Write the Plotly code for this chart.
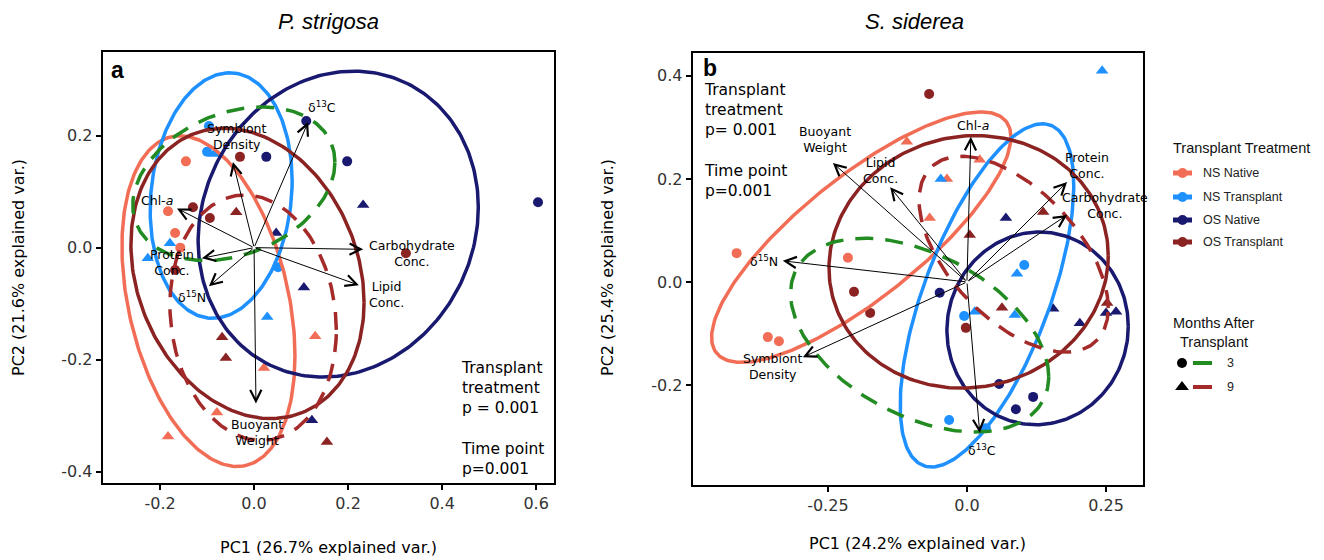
import numpy as np
import plotly.graph_objects as go

W, H = 1324, 560

# ---------------- categories / styles ----------------
GROUP_CODES = ["NN", "NT", "ON", "OT"]
GROUP_NAMES = ["NS Native", "NS Transplant", "OS Native", "OS Transplant"]
GROUP_COLORS = ["#F26D55", "#1E90FF", "#191970", "#8B2323"]
MONTHS = [3, 9]
MONTH_COLORS = ["#228B22", "#A52A2A"]
MONTH_SYMBOLS = ["circle", "triangle-up"]

# ---------------- Panel a: P. strigosa (scores) ----------------
a_group = ["NN", "NN", "NN", "NN", "NN", "NN", "NN", "NN",
           "NT", "NT", "NT", "NT", "NT", "NT", "NT",
           "ON", "ON", "ON", "ON", "ON", "ON", "ON", "ON",
           "OT", "OT", "OT", "OT", "OT", "OT", "OT", "OT", "OT"]
a_month = [3, 3, 3, 3, 9, 9, 9, 9,
           3, 3, 3, 9, 9, 9, 9,
           3, 3, 3, 3, 9, 9, 9, 9,
           3, 3, 3, 3, 3, 9, 9, 9, 9]
a_pc1 = [-0.145, -0.183, -0.168, -0.157, 0.130, 0.021, -0.079, -0.183,
         -0.100, -0.096, 0.051, -0.085, -0.179, -0.226, 0.028,
         0.026, 0.111, 0.198, 0.604, 0.047, 0.232, 0.106, 0.123,
         -0.030, -0.130, -0.094, -0.168, 0.323, -0.038, -0.068, -0.060, 0.155]
a_pc2 = [0.154, 0.065, 0.026, 0.000, -0.158, -0.215, -0.294, -0.337,
         0.171, 0.217, -0.035, 0.167, 0.008, -0.019, -0.124,
         0.162, 0.226, 0.154, 0.081, 0.026, 0.076, -0.071, -0.308,
         0.162, 0.072, 0.053, -0.040, -0.010, 0.063, -0.160, -0.197, -0.347]

# loadings (arrow tips)
a_vars = ["δ<sup>13</sup>C", "Symbiont<br>Density", "Chl-<i>a</i>", "Protein<br>Conc.",
          "δ<sup>15</sup>N", "Carbohydrate<br>Conc.", "Lipid<br>Conc.", "Buoyant<br>Weight"]
a_var_pc1 = [0.115, -0.045, -0.164, -0.111, -0.096, 0.232, 0.223, 0.004]
a_var_pc2 = [0.224, 0.153, 0.070, -0.019, -0.069, -0.003, -0.067, -0.278]

# ellipses: centre, half ranges, correlation
a_ell_keys = ["NN", "NT", "ON", "OT", 3, 9]
a_ell_cx = [-0.097, -0.070, 0.179, -0.014, -0.043, -0.002]
a_ell_cy = [-0.0955, 0.093, 0.042, -0.046, 0.114, -0.125]
a_ell_rx = [0.184, 0.151, 0.298, 0.248, 0.215, 0.177]
a_ell_ry = [0.295, 0.219, 0.273, 0.259, 0.137, 0.219]
a_ell_r = [-0.33, 0.12, 0.11, -0.2, 0.28, -0.1]

# ---------------- Panel b: S. siderea (scores) ----------------
b_group = ["NN", "NN", "NN", "NN", "NN", "NN", "NN", "NN",
           "NT", "NT", "NT", "NT", "NT", "NT", "NT", "NT", "NT",
           "ON", "ON", "ON", "ON", "ON", "ON", "ON", "ON", "ON",
           "OT", "OT", "OT", "OT", "OT", "OT", "OT", "OT"]
b_month = [3, 3, 3, 3, 9, 9, 9, 9,
           3, 3, 3, 3, 9, 9, 9, 9, 9,
           3, 3, 3, 3, 9, 9, 9, 9, 9,
           3, 3, 3, 3, 9, 9, 9, 9]
b_pc1 = [-0.414, -0.214, -0.358, -0.338, -0.108, 0.023, -0.036, -0.067,
         0.103, -0.005, -0.032, 0.034, 0.243, -0.047, 0.090, 0.014, 0.086,
         -0.049, 0.058, 0.119, 0.088, 0.070, 0.155, 0.203, 0.250, 0.268,
         -0.068, -0.002, -0.203, -0.174, 0.137, 0.005, 0.063, 0.252]
b_pc2 = [0.056, 0.047, -0.107, -0.115, 0.272, 0.237, 0.200, 0.124,
         0.033, -0.066, -0.268, -0.284, 0.410, 0.200, 0.016, -0.058, -0.064,
         -0.021, -0.198, -0.223, -0.247, 0.124, -0.052, -0.080, -0.060, -0.058,
         0.365, -0.089, -0.019, -0.060, 0.136, 0.091, -0.050, -0.041]

b_vars = ["Chl-<i>a</i>", "Buoyant<br>Weight", "Lipid<br>Conc.", "δ<sup>15</sup>N",
          "Symbiont<br>Density", "Protein<br>Conc.", "Carbohydrate<br>Conc.", "δ<sup>13</sup>C"]
b_var_pc1 = [0.007, -0.241, -0.138, -0.331, -0.295, 0.180, 0.180, 0.023]
b_var_pc2 = [0.282, 0.231, 0.184, 0.041, -0.146, 0.194, 0.130, -0.293]

b_ell_keys = ["NN", "NT", "ON", "OT", 3, 9]
b_ell_cx = [-0.190, 0.036, 0.127, 0.003, -0.085, 0.084]
b_ell_cy = [0.087, -0.026, -0.090, 0.039, -0.103, 0.054]
b_ell_rx = [0.269, 0.156, 0.163, 0.251, 0.232, 0.170]
b_ell_ry = [0.243, 0.333, 0.187, 0.245, 0.188, 0.190]
b_ell_r = [0.80, 0.64, 0.02, 0.05, -0.43, -0.55]

# ---------------- layout helpers (pixel placement) ----------------
def px(x):
    return x / W

def py(y):
    return 1 - y / H

# label offsets (pixels) relative to arrow tips
a_lab_dx = [14, 4, -20, -30, -17, 49, 28, 1]
a_lab_dy = [15, 25, 8, -4, -11, -4, -9, -29]
b_lab_dx = [2, -8, -10, -19, -30, 20, 38, 2]
b_lab_dy = [11, 23, 17, 0, -9, 17, 10, -17]

FONT = "DejaVu Sans"
ARIAL = "Liberation Sans"


def ellipse_xy(cx, cy, rx, ry, r, n=240):
    t = np.linspace(0, 2 * np.pi, n)
    x = cx + rx * np.cos(t)
    y = cy + ry * (r * np.cos(t) + np.sqrt(1 - r * r) * np.sin(t))
    return x, y


fig = go.Figure()
annotations = []


def add_panel(xa, ya, group, month, pc1, pc2, vars_, vpc1, vpc2, lab_dx, lab_dy,
              ekeys, ecx, ecy, erx, ery, er):
    g = np.array(group)
    m = np.array(month)
    x1 = np.array(pc1)
    y1 = np.array(pc2)
    for gi, code in enumerate(GROUP_CODES):
        for mi, mo in enumerate(MONTHS):
            sel = (g == code) & (m == mo)
            if not sel.any():
                continue
            fig.add_trace(go.Scatter(
                x=x1[sel], y=y1[sel], mode="markers", xaxis=xa, yaxis=ya,
                marker=dict(symbol=MONTH_SYMBOLS[mi], size=10 if mo == 3 else 11,
                            color=GROUP_COLORS[gi], line=dict(width=0)),
                showlegend=False, hoverinfo="skip"))
    # ellipses
    for k, cx, cy, rx, ry, r in zip(ekeys, ecx, ecy, erx, ery, er):
        ex, ey = ellipse_xy(cx, cy, rx, ry, r)
        if k in GROUP_CODES:
            col = GROUP_COLORS[GROUP_CODES.index(k)]
            dash = "solid"
        else:
            col = MONTH_COLORS[MONTHS.index(k)]
            dash = "18px,12px"
        fig.add_trace(go.Scatter(
            x=ex, y=ey, mode="lines", xaxis=xa, yaxis=ya,
            line=dict(color=col, width=3.5, dash=dash),
            showlegend=False, hoverinfo="skip"))
    # arrows + labels
    for name, vx, vy, dx, dy in zip(vars_, vpc1, vpc2, lab_dx, lab_dy):
        annotations.append(dict(
            x=vx, y=vy, ax=0, ay=0, xref=xa, yref=ya, axref=xa, ayref=ya,
            text="", showarrow=True, arrowhead=5, arrowsize=2.2, arrowwidth=1,
            arrowcolor="black", standoff=0, startstandoff=0))
        annotations.append(dict(
            x=vx, y=vy, xref=xa, yref=ya, xshift=dx, yshift=dy, text=name,
            showarrow=False, font=dict(family=FONT, size=12.5, color="black"),
            align="center", xanchor="center", yanchor="middle"))


add_panel("x", "y", a_group, a_month, a_pc1, a_pc2, a_vars, a_var_pc1, a_var_pc2,
          a_lab_dx, a_lab_dy, a_ell_keys, a_ell_cx, a_ell_cy, a_ell_rx, a_ell_ry, a_ell_r)
add_panel("x2", "y2", b_group, b_month, b_pc1, b_pc2, b_vars, b_var_pc1, b_var_pc2,
          b_lab_dx, b_lab_dy, b_ell_keys, b_ell_cx, b_ell_cy, b_ell_rx, b_ell_ry, b_ell_r)

# ---------------- custom legend (right side) ----------------
LEG_X0 = 1150
leg_group_y = [173, 197, 220, 242]
for gi, name in enumerate(GROUP_NAMES):
    fig.add_trace(go.Scatter(
        x=[1173, 1192], y=[leg_group_y[gi]] * 2, mode="lines", xaxis="x3", yaxis="y3",
        line=dict(color=GROUP_COLORS[gi], width=5), showlegend=False, hoverinfo="skip"))
    fig.add_trace(go.Scatter(
        x=[1182.5], y=[leg_group_y[gi]], mode="markers", xaxis="x3", yaxis="y3",
        marker=dict(color=GROUP_COLORS[gi], size=10), showlegend=False, hoverinfo="skip"))
    annotations.append(dict(x=1201, y=leg_group_y[gi], xref="x3", yref="y3", text=name,
                            showarrow=False, xanchor="left", yanchor="middle",
                            font=dict(family=ARIAL, size=12.5, color="#222")))
leg_month_y = [363, 387]
for mi, mo in enumerate(MONTHS):
    fig.add_trace(go.Scatter(
        x=[1182], y=[leg_month_y[mi]], mode="markers", xaxis="x3", yaxis="y3",
        marker=dict(color="black", size=10 if mo == 3 else 12, symbol=MONTH_SYMBOLS[mi]),
        showlegend=False, hoverinfo="skip"))
    fig.add_trace(go.Scatter(
        x=[1193, 1212], y=[leg_month_y[mi]] * 2, mode="lines", xaxis="x3", yaxis="y3",
        line=dict(color=MONTH_COLORS[mi], width=4), showlegend=False, hoverinfo="skip"))
    annotations.append(dict(x=1225, y=leg_month_y[mi], xref="x3", yref="y3", text=str(mo),
                            showarrow=False, xanchor="left", yanchor="middle",
                            font=dict(family=ARIAL, size=12.5, color="#222")))
annotations.append(dict(x=1171, y=148, xref="x3", yref="y3", text="Transplant Treatment",
                        showarrow=False, xanchor="left", yanchor="middle",
                        font=dict(family=ARIAL, size=14.5, color="#111")))
annotations.append(dict(x=1171, y=323, xref="x3", yref="y3", text="Months After",
                        showarrow=False, xanchor="left", yanchor="middle",
                        font=dict(family=ARIAL, size=14.5, color="#111")))
annotations.append(dict(x=1178, y=342, xref="x3", yref="y3", text="Transplant",
                        showarrow=False, xanchor="left", yanchor="middle",
                        font=dict(family=ARIAL, size=14.5, color="#111")))

# ---------------- titles / texts ----------------
def txt(x, y, text, size, family=FONT, **kw):
    d = dict(x=px(x), y=py(y), xref="paper", yref="paper", text=text, showarrow=False,
             xanchor="center", yanchor="middle",
             font=dict(family=family, size=size, color="black"))
    d.update(kw)
    annotations.append(d)

txt(328, 22, "<i>P. strigosa</i>", 22, ARIAL)
txt(914, 22, "<i>S. siderea</i>", 22, ARIAL)
txt(117, 70, "<b>a</b>", 23, ARIAL)
txt(710, 68, "<b>b</b>", 23, ARIAL)
txt(328, 547, "PC1 (26.7% explained var.)", 16)
txt(917, 543, "PC1 (24.2% explained var.)", 16)
txt(18, 268, "PC2 (21.6% explained var.)", 16, textangle=-90)
txt(607, 268, "PC2 (25.4% explained var.)", 16, textangle=-90)
txt(459, 357, "Transplant<br>treatment<br>p = 0.001<br><br>Time point<br>p=0.001", 15.5,
    xanchor="left", yanchor="top", align="left")
txt(702, 79, "Transplant<br>treatment<br>p= 0.001<br><br>Time point<br>p=0.001", 15.5,
    xanchor="left", yanchor="top", align="left")

axis_common = dict(showgrid=False, zeroline=False, showline=True, linecolor="black",
                   linewidth=2, mirror=True, ticks="outside", ticklen=5, tickwidth=1.5,
                   tickcolor="black", tickfont=dict(family=FONT, size=16, color="#333"))

fig.update_layout(
    width=W, height=H, margin=dict(l=0, r=0, t=0, b=0),
    paper_bgcolor="white", plot_bgcolor="rgba(0,0,0,0)", showlegend=False,
    xaxis=dict(domain=[px(102.7), px(554)], range=[-0.322, 0.638],
               tickvals=[-0.2, 0, 0.2, 0.4, 0.6], ticktext=["-0.2", "0.0", "0.2", "0.4", "0.6"],
               **axis_common),
    yaxis=dict(domain=[py(483), py(51.5)], range=[-0.42, 0.35],
               tickvals=[-0.4, -0.2, 0, 0.2], ticktext=["-0.4", "-0.2", "0.0", "0.2"],
               **axis_common),
    xaxis2=dict(domain=[px(692.7), px(1143)], range=[-0.493, 0.3165], anchor="y2",
                tickvals=[-0.25, 0, 0.25], ticktext=["-0.25", "0.0", "0.25"], **axis_common),
    yaxis2=dict(domain=[py(485), py(52.7)], range=[-0.394, 0.445], anchor="x2",
                tickvals=[-0.2, 0, 0.2, 0.4], ticktext=["-0.2", "0.0", "0.2", "0.4"],
                **axis_common),
    xaxis3=dict(domain=[px(LEG_X0), 1], range=[LEG_X0, W], visible=False, anchor="y3"),
    yaxis3=dict(domain=[0, 1], range=[H, 0], visible=False, anchor="x3"),
    annotations=annotations,
)

fig.write_html("out.html")
